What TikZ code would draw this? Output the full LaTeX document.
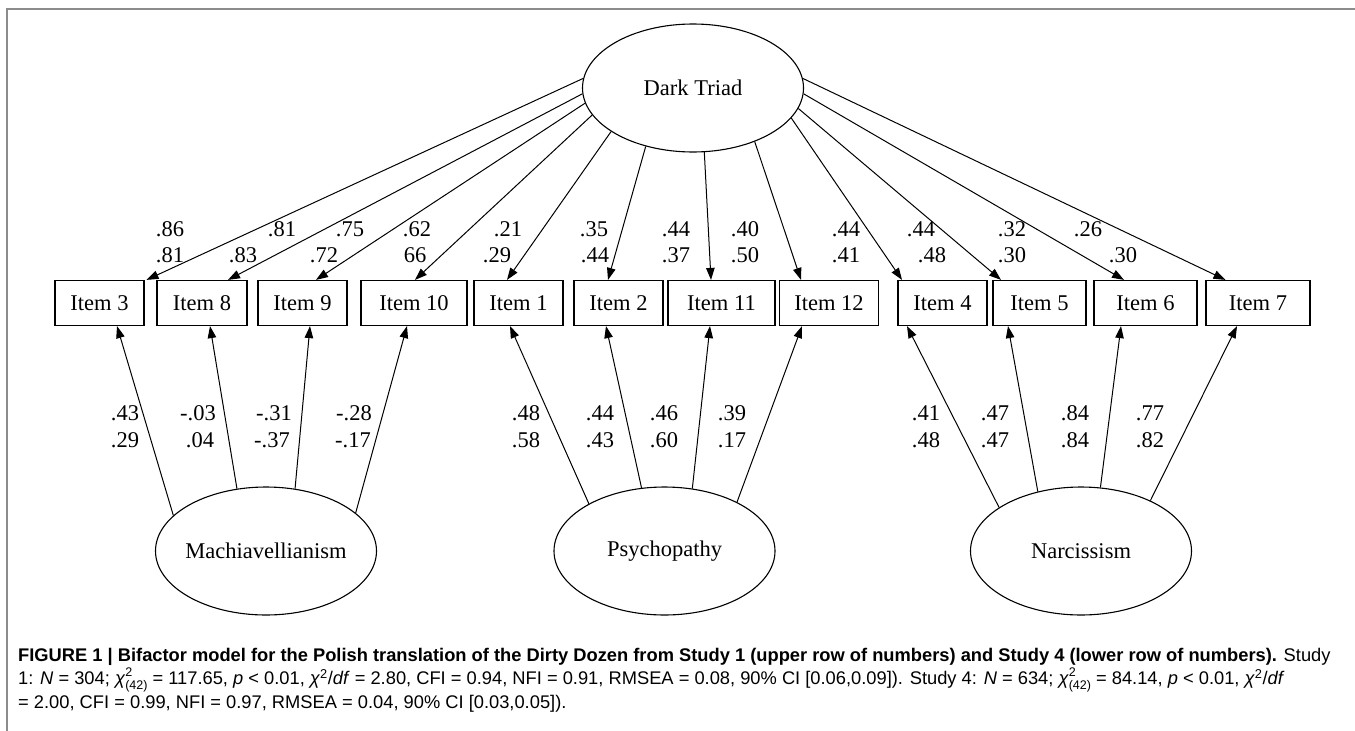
\documentclass[tikz,border=0pt]{standalone}
\usepackage{fontspec}
\setmainfont{Liberation Serif}
\newfontfamily\capfont{Liberation Sans}
\usetikzlibrary{arrows.meta,shapes.geometric}

\newcommand{\capsmall}{\capfont\fontsize{12.5}{12.5}\selectfont}
\newcommand{\chisq}{\textit{χ}\rlap{\raisebox{8.5pt}{\capsmall 2}}\raisebox{-5pt}{\capsmall (42)}}

\begin{document}
\begin{tikzpicture}[x=1pt,y=-1pt,
    item/.style={draw, line width=1.2pt, minimum height=45pt, inner sep=0pt, font=\fontsize{22.5}{27}\selectfont},
    latent/.style={ellipse, draw, line width=1.1pt, minimum width=221pt, minimum height=128pt, inner sep=0pt, font=\fontsize{22.5}{27}\selectfont},
    num/.style={inner sep=0pt, font=\fontsize{22.5}{27}\selectfont},
    load/.style={-{Triangle[length=12pt,width=8.5pt]}, line width=1pt},
    rim/.style={draw=black!45, line width=1.6pt}]

\useasboundingbox (0,0) rectangle (1355,731);

% Frame of the figure
\draw[rim] (7,731) -- (7,9) -- (1355,9);

% General factor
\node[latent] (dt) at (693,88) {Dark Triad};

% Observed items
\foreach \name/\x/\w/\lab in {i3/99.5/89/Item 3, i8/202/90/Item 8, i9/302.5/89/Item 9, i10/414/106/Item 10,
    i1/518.5/89/Item 1, i2/618.5/89/Item 2, i11/721.5/107/Item 11, i12/829/99.5/Item 12,
    i4/942.5/89/Item 4, i5/1039.5/93/Item 5, i6/1145.5/103/Item 6, i7/1258/104/Item 7} {
    \node[item, minimum width=\w pt] (\name) at (\x,303) {\lab};
}

% Specific factors
\foreach \name/\x/\lab in {mach/266/Machiavellianism, psy/664.5/Psychopathy, nar/1081/Narcissism} {
    \node[latent] (\name) at (\x,551) {\makebox[0pt]{\lab}};
}

% Loadings on the general factor
\foreach \ang/\it/\dx in {175/i3/47, 183/i8/26, 188/i9/13.5, 195/i10/1, 208/i1/-11.5, 231/i2/-10.5,
    280/i11/-10.5, 319/i12/-28, 343/i4/-40.5, 349/i5/-38.5, 357/i6/-21.5, 5/i7/-32.5} {
    \draw[load] (dt.\ang) -- ([xshift=\dx pt]\it.north);
}

% Loadings on the specific factors
\foreach \src/\ang/\it/\dx in {mach/159/i3/17.5, mach/115/i8/8, mach/65/i9/7.5, mach/23/i10/-7,
    psy/148/i1/-8.5, psy/110/i2/-12.5, psy/66/i11/-11.5, psy/34/i12/-27,
    nar/152/i4/-35.5, nar/126/i5/-31.5, nar/73/i6/-24.5, nar/36/i7/-21} {
    \draw[load] (\src.\ang) -- ([xshift=\dx pt]\it.south);
}

% Upper numbers (Study 1 / Study 4)
\foreach \xa/\ta/\xb/\tb [count=\k] in {170/.86/170/.81, 282/.81/243/.83, 350/.75/324/.72, 417/.62/415/66,
    508/.21/497/.29, 594/.35/595/.44, 676/.44/676/.37, 745/.40/745/.50,
    846/.44/846/.41, 921/.44/932/.48, 1012/.32/1012/.30, 1088/.26/1123/.30} {
    \node[num] (ua\k) at (\xa,229) {\ta};
    \node[num] (ub\k) at (\xb,255) {\tb};
}

% Lower numbers (Study 1 / Study 4)
\foreach \xa/\ta/\xb/\tb [count=\k] in {125/.43/125/.29, 198/-.03/200/.04, 274/-.31/272/-.37, 354/-.28/353/-.17,
    526/.48/526/.58, 600/.44/600/.43, 664/.46/664/.60, 732/.39/732/.17,
    926/.41/926/.48, 995/.47/995/.47, 1075/.84/1075/.84, 1150/.77/1150/.82} {
    \node[num] (la\k) at (\xa,413) {\ta};
    \node[num] (lb\k) at (\xb,440) {\tb};
}

% Caption
\node[anchor=north west, inner sep=0pt, align=left, font=\capfont\fontsize{18.3}{23.5}\selectfont] (cap) at (18,648)
  {\textbf{FIGURE 1 | Bifactor model for the Polish translation of the Dirty Dozen from Study 1 (upper row of numbers) and Study 4 (lower row of numbers).} Study\\
   1: \textit{N} = 304; \chisq{} = 117.65, \textit{p} < 0.01, \textit{χ}\textsuperscript{2}/\textit{df} = 2.80, CFI = 0.94, NFI = 0.91, RMSEA = 0.08, 90\% CI [0.06,0.09]). Study 4: \textit{N} = 634; \chisq{} = 84.14, \textit{p} < 0.01, \textit{χ}\textsuperscript{2}/\textit{df}\\
   = 2.00, CFI = 0.99, NFI = 0.97, RMSEA = 0.04, 90\% CI [0.03,0.05]).};

\end{tikzpicture}
\end{document}
